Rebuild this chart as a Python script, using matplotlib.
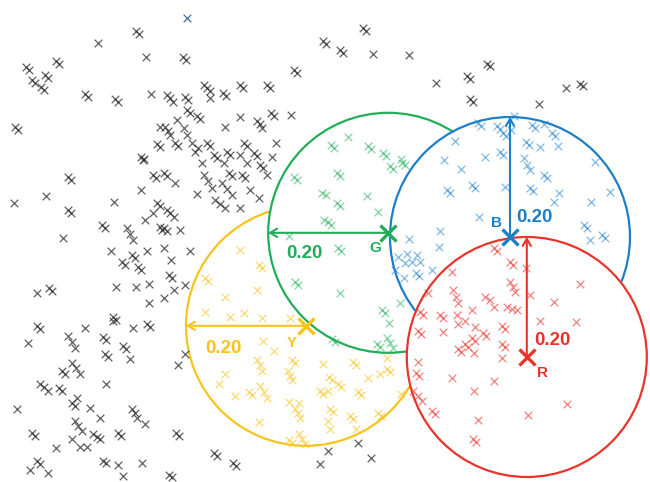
import matplotlib.pyplot as plt
from matplotlib.patches import Circle

# unlabelled points (outside every circle)
black_x = [0.227, 0.232, 0.163, 0.243, 0.093, 0.098, 0.043, 0.048, 0.075, 0.080, 0.053, 0.058, 0.068, 0.073,
           0.142, 0.147, 0.192, 0.197, 0.252, 0.025, 0.030, 0.267, 0.262, 0.267, 0.235, 0.240,
           0.538, 0.543, 0.305, 0.310, 0.490, 0.495, 0.340, 0.345, 0.350, 0.400, 0.405, 0.445, 0.450,
           0.372, 0.377, 0.350, 0.308, 0.313, 0.278, 0.283, 0.288, 0.312, 0.317, 0.328, 0.333, 0.295,
           0.400, 0.452, 0.457, 0.485, 0.428, 0.433, 0.437, 0.375, 0.275, 0.280, 0.283, 0.307, 0.312,
           0.292, 0.297, 0.320, 0.325, 0.330, 0.345, 0.350, 0.407, 0.412, 0.460, 0.378, 0.383, 0.357,
           0.362, 0.400, 0.423, 0.428, 0.453,
           0.605, 0.610, 0.567, 0.572, 0.622, 0.682, 0.812, 0.817, 0.778, 0.783, 0.727, 0.783, 0.788,
           0.967, 0.972, 0.943, 0.898,
           0.113, 0.118, 0.077, 0.023, 0.113, 0.118, 0.190, 0.235, 0.170, 0.175, 0.105, 0.212, 0.217,
           0.222, 0.185, 0.203, 0.208, 0.220, 0.225, 0.230, 0.235, 0.245, 0.242, 0.255, 0.262, 0.267,
           0.255, 0.260, 0.267, 0.270, 0.193, 0.227, 0.248, 0.082, 0.087, 0.062, 0.248, 0.188, 0.193,
           0.238,
           0.273, 0.278, 0.292, 0.337, 0.373, 0.412, 0.433, 0.438, 0.445, 0.340, 0.347, 0.353, 0.382,
           0.387, 0.403, 0.408, 0.370, 0.378, 0.387, 0.417, 0.328, 0.432, 0.358, 0.367, 0.375, 0.400,
           0.278, 0.283, 0.290, 0.273, 0.278, 0.300, 0.273, 0.317, 0.285, 0.282, 0.287, 0.308, 0.290,
           0.273,
           0.062, 0.067, 0.142, 0.188, 0.222, 0.245, 0.250, 0.047, 0.113, 0.120, 0.125, 0.172, 0.177,
           0.205, 0.210, 0.175, 0.180, 0.217, 0.120, 0.127, 0.133, 0.103, 0.108, 0.067, 0.073, 0.080,
           0.098, 0.103, 0.177, 0.128, 0.120, 0.125, 0.028, 0.150, 0.167, 0.220, 0.225, 0.228, 0.242,
           0.125, 0.130, 0.137, 0.053, 0.058, 0.155, 0.162, 0.167, 0.197, 0.202, 0.120, 0.133, 0.145,
           0.093, 0.062, 0.067, 0.050, 0.080, 0.172, 0.177, 0.197, 0.237, 0.205,
           0.308, 0.297, 0.293, 0.298, 0.357, 0.362, 0.388, 0.393, 0.282, 0.287, 0.533,
           0.597, 0.547, 0.618]
black_y = [0.052, 0.057, 0.072, 0.095, 0.102, 0.107, 0.112, 0.117, 0.125, 0.130, 0.133, 0.138, 0.145, 0.150,
           0.157, 0.162, 0.165, 0.170, 0.157, 0.212, 0.217, 0.212, 0.240, 0.245, 0.262, 0.265,
           0.068, 0.073, 0.095, 0.100, 0.117, 0.122, 0.142, 0.147, 0.152, 0.142, 0.147, 0.142, 0.147,
           0.155, 0.160, 0.163, 0.162, 0.167, 0.158, 0.163, 0.170, 0.183, 0.188, 0.193, 0.198, 0.200,
           0.195, 0.188, 0.193, 0.192, 0.202, 0.207, 0.213, 0.212, 0.212, 0.218, 0.225, 0.213, 0.225,
           0.238, 0.243, 0.238, 0.253, 0.247, 0.238, 0.243, 0.238, 0.243, 0.238, 0.253, 0.258, 0.258,
           0.263, 0.258, 0.255, 0.260, 0.262,
           0.047, 0.052, 0.083, 0.088, 0.090, 0.092, 0.107, 0.110, 0.127, 0.132, 0.138, 0.165, 0.170,
           0.140, 0.143, 0.147, 0.173,
           0.295, 0.300, 0.327, 0.338, 0.350, 0.355, 0.337, 0.317, 0.375, 0.380, 0.397, 0.380, 0.390,
           0.400, 0.418, 0.437, 0.442, 0.425, 0.430, 0.445, 0.450, 0.418, 0.367, 0.355, 0.338, 0.343,
           0.292, 0.297, 0.378, 0.383, 0.478, 0.478, 0.473, 0.480, 0.485, 0.488, 0.505, 0.528, 0.533,
           0.267,
           0.288, 0.293, 0.305, 0.272, 0.272, 0.272, 0.275, 0.280, 0.292, 0.292, 0.302, 0.313, 0.288,
           0.293, 0.292, 0.297, 0.305, 0.315, 0.325, 0.317, 0.323, 0.330, 0.333, 0.340, 0.347, 0.347,
           0.350, 0.355, 0.362, 0.380, 0.385, 0.383, 0.413, 0.418, 0.433, 0.458, 0.463, 0.475, 0.483,
           0.497,
           0.543, 0.548, 0.547, 0.535, 0.547, 0.540, 0.545, 0.572, 0.560, 0.570, 0.580, 0.562, 0.567,
           0.577, 0.582, 0.590, 0.595, 0.598, 0.605, 0.613, 0.623, 0.618, 0.623, 0.640, 0.645, 0.652,
           0.647, 0.652, 0.640, 0.663, 0.672, 0.677, 0.682, 0.680, 0.697, 0.682, 0.688, 0.697, 0.707,
           0.702, 0.710, 0.718, 0.722, 0.727, 0.723, 0.728, 0.732, 0.722, 0.727, 0.732, 0.745, 0.745,
           0.747, 0.768, 0.773, 0.783, 0.788, 0.768, 0.772, 0.775, 0.772, 0.793,
           0.590, 0.608, 0.722, 0.727, 0.755, 0.760, 0.772, 0.777, 0.792, 0.795, 0.773,
           0.738, 0.752, 0.763]

# the one stray point at the top
odd_x = [0.312]
odd_y = [0.030]

# cluster G (green)
green_x = [0.580, 0.552, 0.557, 0.613, 0.618, 0.638, 0.643, 0.668, 0.490, 0.495, 0.537, 0.540, 0.482,
           0.492, 0.497, 0.562, 0.567, 0.650, 0.655, 0.670, 0.675, 0.612, 0.562, 0.567, 0.630, 0.547,
           0.552, 0.543, 0.563, 0.568, 0.567, 0.637, 0.642, 0.667, 0.648, 0.553, 0.558, 0.628, 0.633,
           0.645, 0.650, 0.655]
green_y = [0.228, 0.242, 0.247, 0.243, 0.248, 0.255, 0.260, 0.265, 0.295, 0.300, 0.322, 0.367, 0.393,
           0.470, 0.475, 0.288, 0.293, 0.277, 0.282, 0.272, 0.275, 0.327, 0.338, 0.343, 0.353, 0.370,
           0.375, 0.325, 0.413, 0.418, 0.488, 0.517, 0.522, 0.505, 0.538, 0.565, 0.570, 0.573, 0.578,
           0.563, 0.572, 0.580]

# cluster B (blue)
blue_x = [0.797, 0.802, 0.758, 0.740, 0.808, 0.857, 0.828, 0.833, 0.887, 0.892, 0.907, 0.838, 0.843,
          0.920, 0.925, 0.852, 0.877, 0.882, 0.900, 0.930, 0.833, 0.838, 0.873, 0.992, 0.768, 0.787,
          0.792, 0.745, 0.750, 0.798, 0.733, 0.682, 0.732, 0.663, 0.678, 0.695, 0.675, 0.687, 0.700,
          0.658, 0.693, 0.698, 0.720, 0.673, 0.878, 0.883, 0.907, 0.912, 0.883, 0.888, 0.842, 0.932,
          0.923, 1.017, 0.985, 0.973, 0.978, 1.003, 1.008, 0.983]
blue_y = [0.205, 0.210, 0.235, 0.267, 0.262, 0.193, 0.210, 0.215, 0.208, 0.213, 0.207, 0.222, 0.227,
          0.222, 0.227, 0.217, 0.237, 0.242, 0.245, 0.243, 0.253, 0.258, 0.263, 0.270, 0.282, 0.308,
          0.313, 0.317, 0.322, 0.362, 0.385, 0.398, 0.412, 0.428, 0.423, 0.425, 0.438, 0.437, 0.437,
          0.450, 0.455, 0.460, 0.450, 0.463, 0.275, 0.283, 0.292, 0.297, 0.313, 0.318, 0.312, 0.322,
          0.337, 0.320, 0.337, 0.375, 0.380, 0.392, 0.397, 0.400]

# cluster R (red)
red_x = [0.753, 0.755, 0.760, 0.763, 0.713, 0.808, 0.700, 0.705, 0.733, 0.738, 0.762, 0.787, 0.823,
         0.828, 0.850, 0.855, 0.877, 0.850, 0.855, 0.858, 0.967, 0.883, 0.923, 0.817, 0.823, 0.845,
         0.853, 0.862, 0.900, 0.960, 0.697, 0.702, 0.738, 0.763, 0.792, 0.775, 0.805, 0.810, 0.787,
         0.792, 0.775, 0.780, 0.763, 0.768, 0.790, 0.697, 0.693, 0.698, 0.753, 0.688, 0.697, 0.703,
         0.720, 0.725, 0.790, 0.797, 0.788, 0.793, 0.837, 0.842, 0.837, 0.842, 0.837, 0.823, 0.945,
         0.880]
red_y = [0.453, 0.483, 0.495, 0.505, 0.488, 0.495, 0.520, 0.525, 0.525, 0.530, 0.525, 0.517, 0.413,
         0.418, 0.437, 0.442, 0.447, 0.470, 0.478, 0.487, 0.473, 0.492, 0.503, 0.500, 0.512, 0.512,
         0.515, 0.517, 0.535, 0.537, 0.552, 0.557, 0.553, 0.540, 0.545, 0.535, 0.555, 0.560, 0.563,
         0.568, 0.573, 0.578, 0.582, 0.587, 0.588, 0.603, 0.622, 0.627, 0.630, 0.652, 0.660, 0.668,
         0.685, 0.690, 0.652, 0.700, 0.732, 0.737, 0.543, 0.548, 0.573, 0.578, 0.597, 0.635, 0.673,
         0.692]

# cluster Y (yellow)
yellow_x = [0.400, 0.432, 0.437, 0.342, 0.347, 0.428, 0.375, 0.342, 0.383, 0.407, 0.437, 0.483, 0.438,
            0.457, 0.428, 0.433, 0.437, 0.487, 0.492, 0.480, 0.483, 0.487, 0.375, 0.365, 0.415, 0.420,
            0.433, 0.440, 0.445, 0.392, 0.482, 0.498, 0.492, 0.497, 0.500, 0.432, 0.482, 0.487, 0.498,
            0.503, 0.508, 0.533, 0.538, 0.538, 0.588, 0.593, 0.645, 0.645, 0.650, 0.633, 0.613, 0.548,
            0.553, 0.563, 0.568, 0.547, 0.597, 0.602, 0.668, 0.550, 0.555, 0.583, 0.588, 0.630, 0.635,
            0.547, 0.550, 0.593]
yellow_y = [0.417, 0.442, 0.447, 0.463, 0.468, 0.483, 0.495, 0.520, 0.528, 0.522, 0.530, 0.530, 0.568,
            0.585, 0.600, 0.608, 0.618, 0.600, 0.605, 0.618, 0.627, 0.633, 0.623, 0.640, 0.653, 0.658,
            0.643, 0.653, 0.663, 0.660, 0.670, 0.672, 0.682, 0.688, 0.697, 0.703, 0.733, 0.738, 0.723,
            0.732, 0.740, 0.652, 0.657, 0.607, 0.603, 0.608, 0.597, 0.615, 0.620, 0.623, 0.630, 0.628,
            0.633, 0.640, 0.645, 0.652, 0.653, 0.658, 0.657, 0.682, 0.687, 0.693, 0.698, 0.688, 0.693,
            0.702, 0.715, 0.715]

# cluster centres, radius and colours
names = ['Y', 'G', 'B', 'R']
centre_x = [0.510, 0.647, 0.850, 0.878]
centre_y = [0.543, 0.388, 0.395, 0.595]
radius = 0.20
colors = {'Y': '#f8c31c', 'G': '#22ad58', 'B': '#1d7fc8', 'R': '#e8342b'}

fig = plt.figure(figsize=(6.5, 4.82), dpi=100)
ax = fig.add_axes([0, 0, 1, 1])
ax.set_xlim(0, 650 / 600)
ax.set_ylim(482 / 600, 0)
ax.set_aspect('equal')
ax.axis('off')

# circles with white fill, later ones hide the arcs of earlier ones
for i, n in enumerate(names):
    ax.add_patch(Circle((centre_x[i], centre_y[i]), radius, facecolor='white',
                        edgecolor=colors[n], lw=1.6, zorder=1 + i))

kw = dict(marker='x', s=30, linewidths=0.9, zorder=10)
ax.scatter(black_x, black_y, color='#2b2b2b', alpha=0.75, **kw)
ax.scatter(odd_x, odd_y, color='#4d6d9c', **kw)
ax.scatter(green_x, green_y, color=colors['G'], alpha=0.55, **kw)
ax.scatter(blue_x, blue_y, color=colors['B'], alpha=0.55, **kw)
ax.scatter(red_x, red_y, color=colors['R'], alpha=0.6, **kw)
ax.scatter(yellow_x, yellow_y, color=colors['Y'], alpha=0.6, **kw)

# radius arrows: Y and G point left, B and R point up
dirs = {'Y': (-1, 0), 'G': (-1, 0), 'B': (0, -1), 'R': (0, -1)}
for i, n in enumerate(names):
    cx, cy = centre_x[i], centre_y[i]
    dx, dy = dirs[n]
    ax.annotate('', xy=(cx + dx * radius, cy + dy * radius), xytext=(cx, cy),
                arrowprops=dict(arrowstyle='->,head_length=0.5,head_width=0.3',
                                color=colors[n], lw=1.5, shrinkA=0, shrinkB=0), zorder=12)
    ax.plot(cx, cy, marker='x', ms=11, mew=2.4, color=colors[n], zorder=13)

font = dict(family=['Liberation Sans', 'DejaVu Sans'], fontweight='bold')
# "0.20" labels and centre letters
label_pos = {'Y': (0.372, 0.581), 'G': (0.507, 0.423), 'B': (0.890, 0.362), 'R': (0.920, 0.568)}
letter_pos = {'Y': (0.487, 0.572), 'G': (0.625, 0.413), 'B': (0.827, 0.372), 'R': (0.905, 0.622)}
for n in names:
    ax.text(*label_pos[n], '0.20', color=colors[n], fontsize=13.5, ha='center', va='center',
            zorder=14, **font)
    ax.text(*letter_pos[n], n, color=colors[n], fontsize=11, ha='center', va='center',
            zorder=14, **font)

plt.savefig('out.png', dpi=100)
